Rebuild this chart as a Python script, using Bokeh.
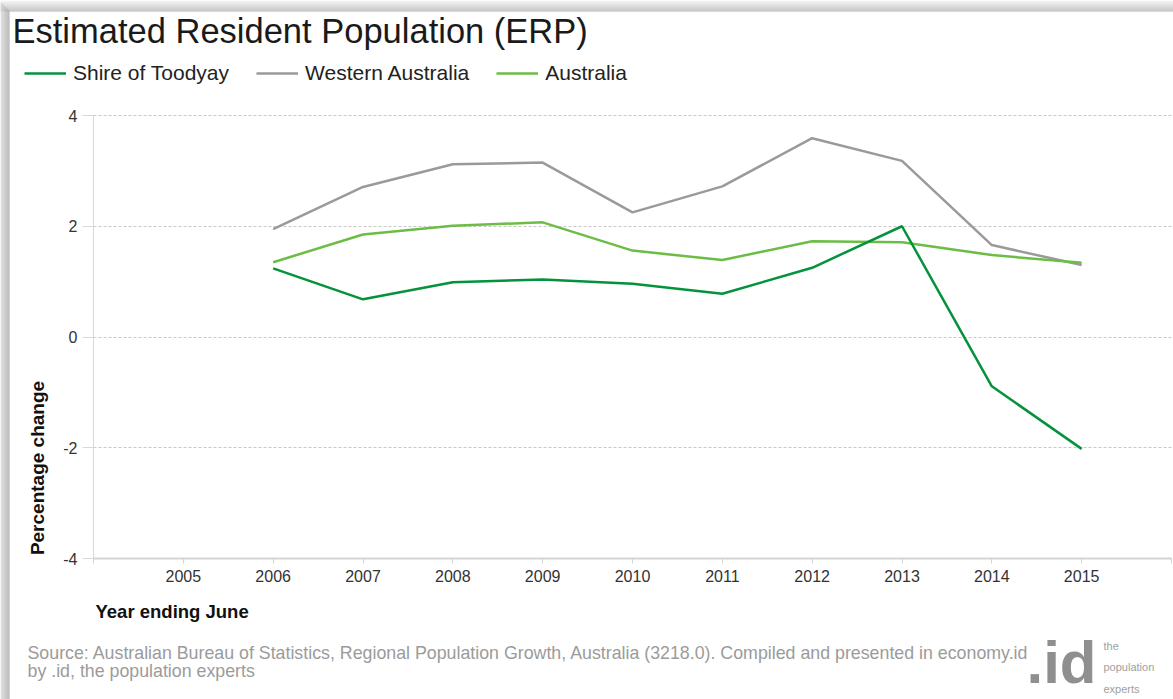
from math import pi
from bokeh.plotting import figure
from bokeh.models import (FixedTicker, Label, Legend, LegendItem, ColumnDataSource, Range1d,
                          BoxAnnotation, Grid)
from bokeh.embed import file_html
from bokeh.resources import INLINE

# ---- data ----
years = [2006, 2007, 2008, 2009, 2010, 2011, 2012, 2013, 2014, 2015]
toodyay = [1.24, 0.68, 0.99, 1.04, 0.96, 0.78, 1.25, 2.00, -0.89, -2.02]
western_australia = [1.95, 2.71, 3.12, 3.15, 2.25, 2.72, 3.59, 3.18, 1.66, 1.30]
australia = [1.35, 1.85, 2.01, 2.07, 1.56, 1.39, 1.73, 1.71, 1.48, 1.34]
series_names = ["Shire of Toodyay", "Western Australia", "Australia"]
x_ticks = [2004, 2005, 2006, 2007, 2008, 2009, 2010, 2011, 2012, 2013, 2014, 2015, 2016]
x_tick_labels = ["", "2005", "2006", "2007", "2008", "2009", "2010", "2011", "2012",
                 "2013", "2014", "2015", ""]
y_ticks = [-4, -2, 0, 2, 4]
y_tick_labels = ["-4", "-2", "0", "2", "4"]

title_text = "Estimated Resident Population (ERP)"
y_title = "Percentage change"
x_title = "Year ending June"
source_lines = [
    "Source: Australian Bureau of Statistics, Regional Population Growth, Australia (3218.0). Compiled and presented in economy.id",
    "by .id, the population experts",
]
logo_text = ".id"
logo_words = ["the", "population", "experts"]

FONT = "Liberation Sans"
C_TOOD = "#04923b"
C_WA = "#9a9a9a"
C_AUS = "#6cbd45"

# ---- page geometry (pixels) ----
W, H = 1173, 699
FL, FR, FT, FB = 93, 1171, 115, 558        # plotting area edges on the page
X0, X1 = x_ticks[0], x_ticks[-1]
Y0, Y1 = y_ticks[0], y_ticks[-1]
ppx = (FR - FL) / (X1 - X0)
ppy = (FB - FT) / (Y1 - Y0)
xr = Range1d(X0 - FL / ppx, X1 + (W - FR) / ppx)
yr = Range1d(Y0 - (H - FB) / ppy, Y1 + FT / ppy)

src = ColumnDataSource(dict(year=years, tood=toodyay, wa=western_australia, aus=australia))

p = figure(width=W, height=H, output_backend="svg", toolbar_location=None,
           x_range=xr, y_range=yr, min_border=0,
           min_border_left=0, min_border_right=0, min_border_top=0, min_border_bottom=0)
p.outline_line_color = None
p.title.visible = False
p.background_fill_color = "white"
p.border_fill_color = "white"

# card shadow along the top and left edges
for i in range(11):
    g = int(0xf2 - (0xf2 - 0xb6) * i / 10)
    p.add_layout(BoxAnnotation(left=0, right=W, top=H - i, bottom=H - i - 1,
                               left_units="screen", right_units="screen",
                               top_units="screen", bottom_units="screen",
                               fill_color="#%02x%02x%02x" % (g, g, g), fill_alpha=1,
                               line_alpha=0, level="underlay"))
for i in range(9):
    g = int(0xd8 - (0xd8 - 0xa8) * i / 8)
    p.add_layout(BoxAnnotation(left=i, right=i + 1, top=H - 11 + (9 - i), bottom=0,
                               left_units="screen", right_units="screen",
                               top_units="screen", bottom_units="screen",
                               fill_color="#%02x%02x%02x" % (g, g, g), fill_alpha=1,
                               line_alpha=0, level="underlay"))

# grid lines (dashed) limited to the plotting area
p.xgrid.grid_line_color = None
if "cross_bounds" in Grid.properties():
    p.ygrid.ticker = FixedTicker(ticks=y_ticks)
    p.ygrid.cross_bounds = (X0, X1)
    p.ygrid.grid_line_color = "#c8c8c8"
    p.ygrid.grid_line_dash = "3 2"
    p.ygrid.grid_line_width = 1
else:
    p.ygrid.grid_line_color = None
    p.segment(x0=[X0] * len(y_ticks), x1=[X1] * len(y_ticks), y0=y_ticks, y1=y_ticks,
              line_color="#c8c8c8", line_dash="3 2", line_width=1)

r_wa = p.line("year", "wa", source=src, line_color=C_WA, line_width=2.5)
r_aus = p.line("year", "aus", source=src, line_color=C_AUS, line_width=2.5)
r_tood = p.line("year", "tood", source=src, line_color=C_TOOD, line_width=2.5)

# axes, pinned to the plotting area
xa = p.xaxis[0]
xa.fixed_location = Y0
xa.bounds = (X0, X1)
xa.ticker = FixedTicker(ticks=x_ticks)
xa.major_label_overrides = {t: l for t, l in zip(x_ticks, x_tick_labels)}
xa.minor_tick_line_color = None
xa.major_tick_in = 0
xa.major_tick_out = 5
xa.major_label_standoff = 6
xa.axis_line_color = "#d4d4d4"
xa.axis_line_width = 2
xa.major_tick_line_color = "#d4d4d4"
xa.major_label_text_font = FONT
xa.major_label_text_font_size = "16px"
xa.major_label_text_color = "#333333"

ya = p.yaxis[0]
ya.fixed_location = X0
ya.bounds = (Y0, Y1)
ya.ticker = FixedTicker(ticks=y_ticks)
ya.major_label_overrides = {t: l for t, l in zip(y_ticks, y_tick_labels)}
ya.minor_tick_line_color = None
ya.major_tick_in = 0
ya.major_tick_out = 11
ya.major_label_standoff = 5
ya.axis_line_color = "#d9d9d9"
ya.major_tick_line_color = "#d9d9d9"
ya.major_label_text_font = FONT
ya.major_label_text_font_size = "16px"
ya.major_label_text_color = "#333333"

# legend
legend = Legend(items=[LegendItem(label=series_names[0], renderers=[r_tood]),
                       LegendItem(label=series_names[1], renderers=[r_wa]),
                       LegendItem(label=series_names[2], renderers=[r_aus])],
                orientation="horizontal", location=(24, H - 85),
                label_text_font=FONT, label_text_font_size="21px", label_text_color="#222222",
                glyph_width=42, glyph_height=24, label_height=24, label_standoff=7, spacing=27,
                padding=0, margin=0, border_line_alpha=0, background_fill_alpha=0)
p.add_layout(legend)


def lab(text, X, Y, size, color="#222222", style="normal", align="left", angle=0):
    p.add_layout(Label(x=X, y=H - Y, x_units="screen", y_units="screen", text=text,
                       text_font=FONT, text_font_size=size, text_color=color,
                       text_font_style=style, text_align=align, text_baseline="middle",
                       angle=angle))


lab(title_text, 12, 30, "34.5px", color="#1a1a1a")
lab(y_title, 36.5, 467.5, "19px", color="#111111", style="bold", align="center", angle=pi / 2)
lab(x_title, 95, 611, "18.5px", color="#111111", style="bold")
lab(source_lines[0], 27, 652.5, "17.8px", color="#9b9b9b")
lab(source_lines[1], 27, 670, "17.8px", color="#9b9b9b")
lab(logo_text, 1026, 662, "60px", color="#8f8f8f", style="bold")
for i, w in enumerate(logo_words):
    lab(w, 1103, 645 + 21.5 * i, "11px", color="#a0a0a0")

open("out.html", "w").write(file_html(p, INLINE))
